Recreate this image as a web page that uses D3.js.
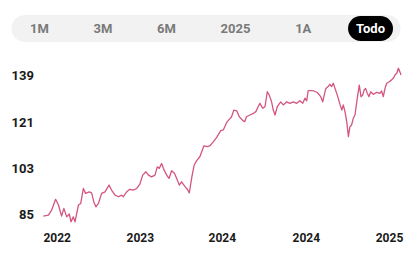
<!DOCTYPE html>
<html>
<head>
<meta charset="utf-8">
<script src="https://cdn.jsdelivr.net/npm/d3@7"></script>
<style>
  body { margin: 0; background: #fff; }
  svg { display: block; font-family: Roboto, "Open Sans", sans-serif; }
</style>
</head>
<body>
<svg id="chart" width="420" height="263"></svg>
<script>
// range buttons
const tabs = ['1M', '3M', '6M', '2025', '1A', 'Todo'];
const activeTab = 'Todo';

// days since start of series, and price
const days = [0, 18, 29, 43, 53, 64, 72, 82, 91, 97, 105, 111, 123, 131, 140, 148, 161, 169, 177, 184,
  193, 204, 216, 230, 239, 251, 263, 274, 280, 292, 303, 315, 327, 338, 348, 359, 368, 379, 391, 399,
  406, 414, 423, 432, 440, 449, 459, 467, 476, 484, 496, 504, 511, 520, 528, 537, 548, 562, 574, 583,
  595, 607, 621, 630, 642, 651, 659, 667, 677, 686, 697, 705, 711, 723, 735, 744, 752, 758, 768, 776,
  784, 791, 799, 805, 811, 819, 831, 840, 852, 863, 875, 887, 898, 908, 916, 922, 927, 945, 959, 971,
  978, 982, 989, 997, 1003, 1009, 1015, 1021, 1029, 1039, 1045, 1050, 1056, 1062, 1068, 1073, 1079, 1085, 1091, 1099,
  1106, 1112, 1118, 1123, 1128, 1134, 1140, 1146, 1155, 1167, 1178, 1184, 1190, 1196, 1202, 1211, 1219, 1225, 1231, 1237,
  1243, 1248, 1252];
const prices = [84.5, 84.9, 86.8, 91.0, 88.8, 84.5, 87.5, 84.2, 85.3, 82.3, 84.2, 82.3, 88.8, 89.4, 95.2, 93.3, 93.9, 93.5, 90.0, 88.1,
  89.4, 93.3, 93.9, 96.5, 94.6, 92.6, 92.0, 92.6, 92.0, 93.9, 94.9, 94.6, 95.2, 96.9, 100.4, 101.7, 100.4, 99.7, 100.4, 103.6,
  103.0, 104.9, 102.3, 100.4, 99.1, 102.1, 101.1, 99.1, 96.5, 97.8, 95.9, 94.9, 93.5, 99.7, 104.3, 106.0, 107.5, 111.7, 111.4, 111.7,
  113.3, 115.0, 117.6, 117.9, 120.8, 122.0, 123.0, 125.6, 125.3, 123.0, 121.7, 121.1, 123.0, 123.7, 124.3, 125.0, 126.9, 128.2, 126.3, 126.9,
  132.7, 131.4, 128.8, 125.6, 123.7, 126.9, 128.8, 127.6, 128.8, 128.2, 128.8, 128.2, 129.2, 128.2, 130.2, 129.2, 133.1, 133.1, 132.4, 130.8,
  128.8, 130.8, 134.0, 134.7, 135.6, 134.7, 136.0, 134.0, 131.4, 127.6, 125.6, 127.6, 125.0, 121.1, 115.3, 119.1, 119.8, 122.4, 123.7, 130.2,
  135.3, 130.8, 131.4, 133.4, 134.0, 132.1, 130.8, 132.7, 131.7, 132.5, 132.1, 133.0, 130.8, 134.0, 136.0, 136.6, 137.3, 137.9, 139.2, 139.9,
  141.8, 140.5, 139.2];

const yTicks = [85, 103, 121, 139];
const xTickDays = [47, 338, 625, 919, 1210];
const xTickLabels = ['2022', '2023', '2024', '2024', '2025'];

const data = days.map((d, i) => ({ d: d, v: prices[i] }));

const svg = d3.select('#chart');

const x = d3.scaleLinear().domain([0, 1252]).range([43.3, 401]);
const y = d3.scaleLinear().domain([85, 139]).range([214.8, 75.5]);

// --- range selector ---
// pill bar, labels spread like flex space-between
svg.append('rect')
  .attr('x', 11.5).attr('y', 15).attr('width', 389).attr('height', 27)
  .attr('rx', 13.5).attr('fill', '#f2f2f2');

const activePill = svg.append('rect')
  .attr('y', 16).attr('height', 25)
  .attr('rx', 12.5).attr('fill', '#000');

const tabText = svg.append('g').selectAll('text').data(tabs).enter().append('text')
  .attr('y', 28.5)
  .attr('dy', '0.35em')
  .attr('font-size', 13)
  .attr('font-weight', 700)
  .attr('fill', d => d === activeTab ? '#fff' : '#7a7a7a')
  .text(d => d);

const widths = tabText.nodes().map(n => n.getComputedTextLength());
const left = 30, right = 385;
const gap = (right - left - d3.sum(widths)) / (tabs.length - 1);
let cursor = left;
tabText.each(function(d, i) {
  d3.select(this).attr('x', cursor);
  if (d === activeTab) {
    activePill.attr('x', cursor - 8).attr('width', widths[i] + 16);
  }
  cursor += widths[i] + gap;
});

// --- y axis labels ---
const yAxis = d3.axisLeft(y).tickValues(yTicks).tickSize(0).tickPadding(0);
const gy = svg.append('g').attr('transform', 'translate(34,0)').call(yAxis);
gy.select('.domain').remove();
gy.selectAll('text')
  .attr('font-size', 13)
  .attr('font-weight', 700)
  .attr('font-family', 'Roboto, sans-serif')
  .attr('fill', '#1a1a1a');

// --- x axis labels ---
const xAxis = d3.axisBottom(x).tickValues(xTickDays).tickSize(0).tickPadding(0)
  .tickFormat((d, i) => xTickLabels[i]);
const gx = svg.append('g').attr('transform', 'translate(0,233)').call(xAxis);
gx.select('.domain').remove();
gx.selectAll('text')
  .attr('font-size', 12)
  .attr('font-weight', 700)
  .attr('font-family', 'Roboto, sans-serif')
  .attr('fill', '#1a1a1a');

// --- price line ---
const line = d3.line()
  .x(d => x(d.d))
  .y(d => y(d.v));

svg.append('path')
  .datum(data)
  .attr('d', line)
  .attr('fill', 'none')
  .attr('stroke', '#d4557f')
  .attr('stroke-width', 1.3)
  .attr('stroke-linejoin', 'round');
</script>
</body>
</html>
